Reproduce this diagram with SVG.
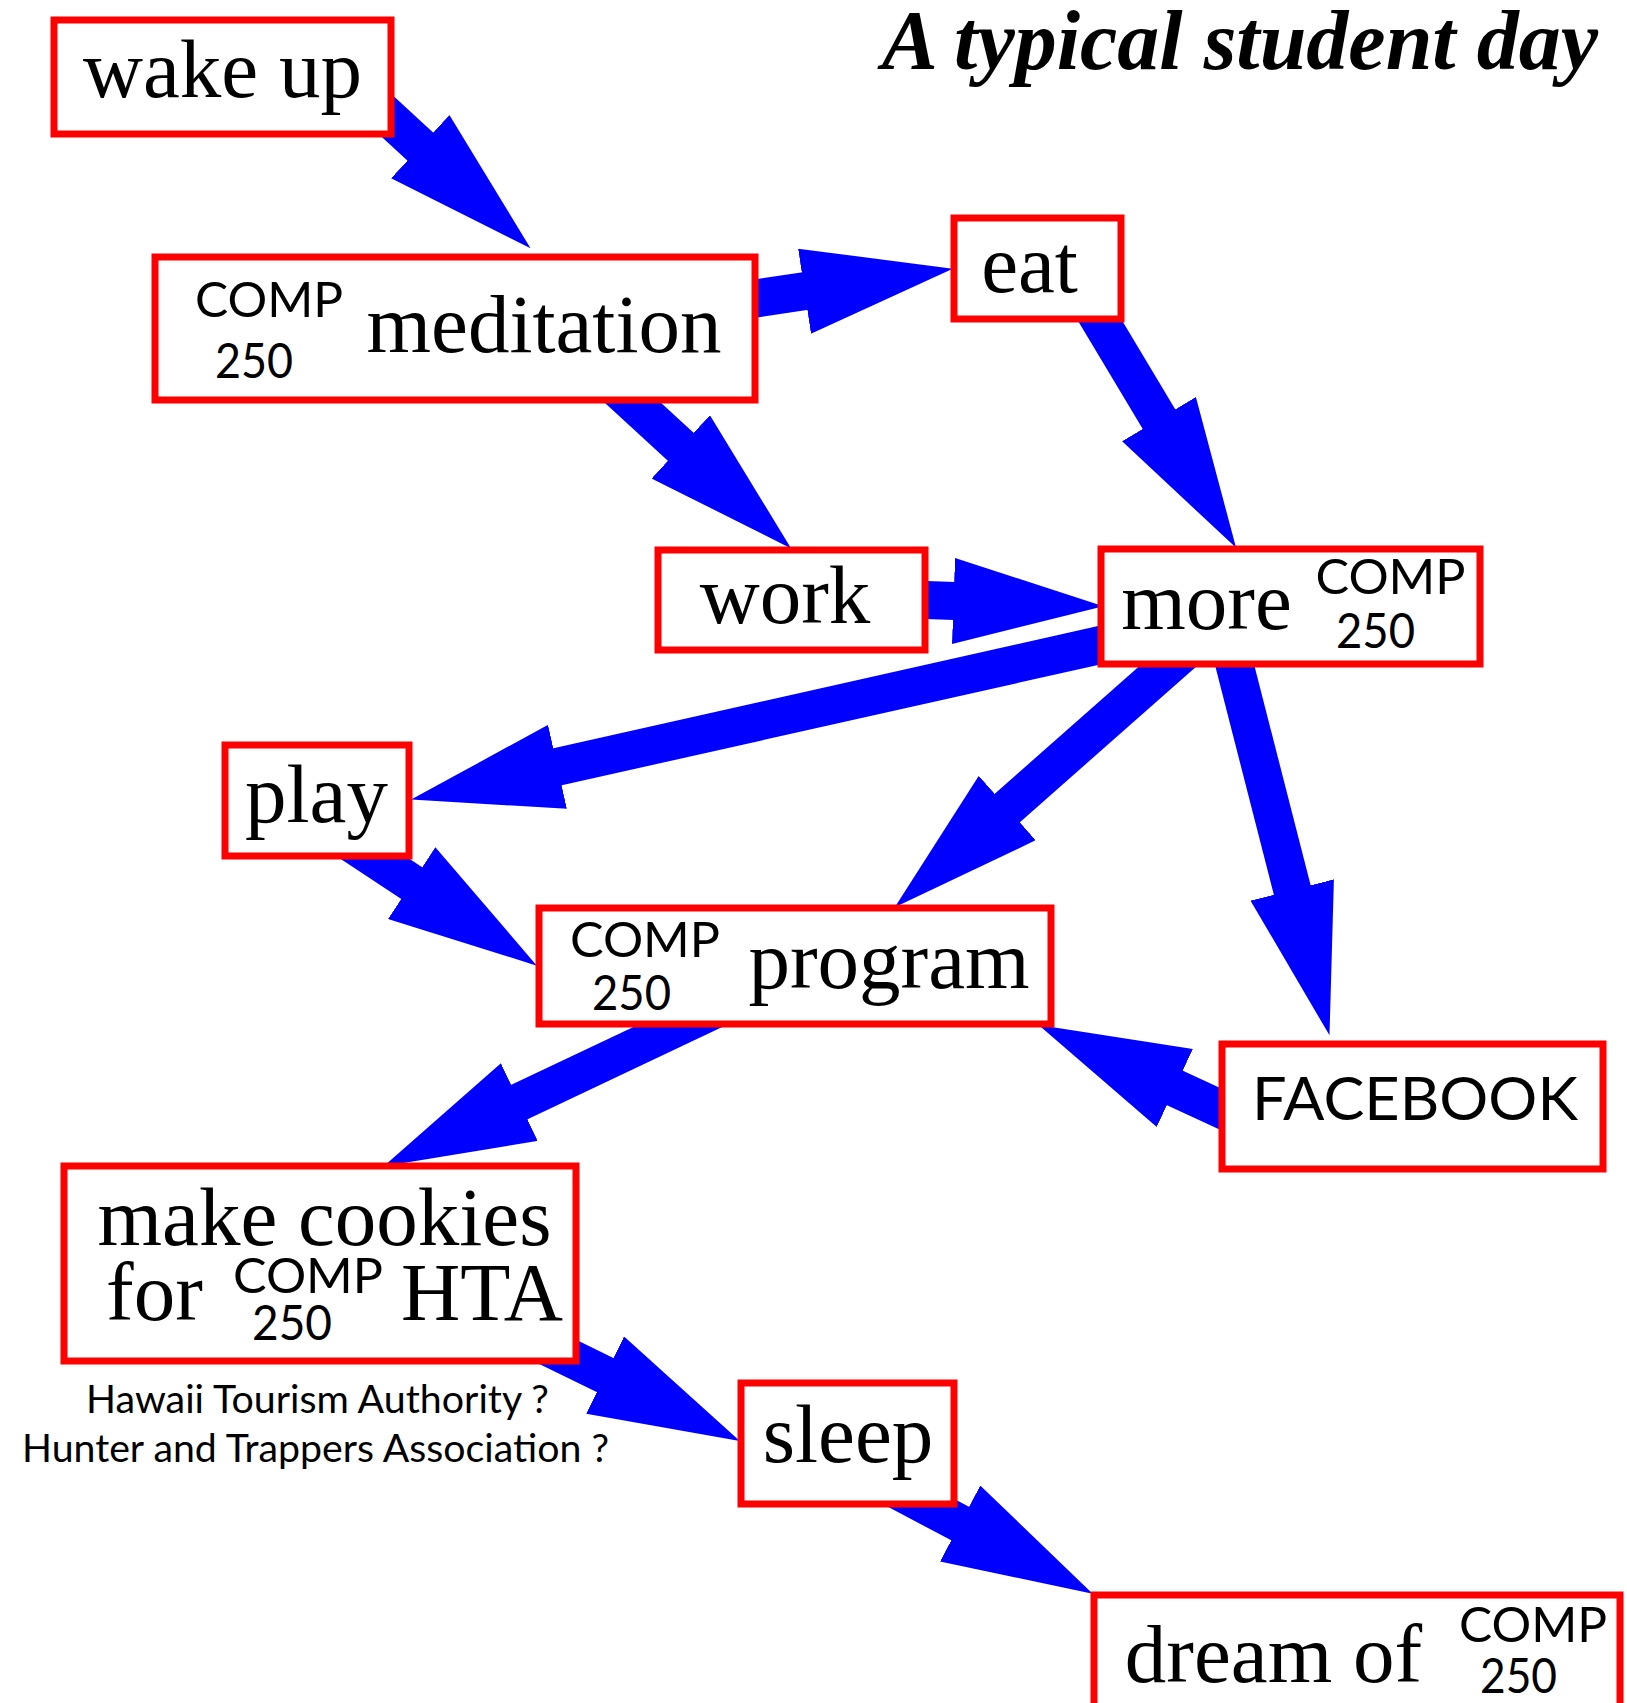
<svg xmlns="http://www.w3.org/2000/svg" width="1627" height="1703" viewBox="0 0 1627 1703">
<style>
.box{fill:#ffffff;stroke:#ff0000;stroke-width:7}
.lbl{font-family:"Liberation Serif","Times New Roman",serif;font-size:83px;fill:#000;text-anchor:middle}
.sub{font-family:Lato,"Liberation Sans",sans-serif;font-size:49px;fill:#000;text-anchor:middle}
.cap{font-family:Lato,"Liberation Sans",sans-serif;font-size:39px;fill:#000;text-anchor:middle}
.fb{font-family:Lato,"Liberation Sans",sans-serif;font-size:60px;fill:#000;text-anchor:middle}
.title{font-family:"Liberation Serif","Times New Roman",serif;font-size:84px;font-weight:bold;font-style:italic;fill:#000;text-anchor:end}
.edge{stroke:#0000ff;stroke-width:38;fill:none;stroke-linecap:butt;marker-end:url(#head)}
</style>
<defs>
<marker id="head" markerUnits="userSpaceOnUse" markerWidth="150" markerHeight="86" viewBox="0 0 150 86" refX="1" refY="43" orient="auto">
<path d="M0,0 L150,43 L0,86 Z" fill="#0000ff"/>
</marker>
</defs>
<rect width="1627" height="1703" fill="#ffffff"/>
<text class="title" x="1598" y="69">A typical student day</text>
<g id="connectors">
<line class="edge" x1="347.5" y1="79.5" x2="421" y2="147.3"/>
<line class="edge" x1="706.7" y1="305.9" x2="805.5" y2="291"/>
<line class="edge" x1="571.1" y1="345.9" x2="681.5" y2="447.5"/>
<line class="edge" x1="1082.4" y1="291.3" x2="1159.5" y2="420"/>
<line class="edge" x1="854.6" y1="597.5" x2="954.5" y2="601"/>
<line class="edge" x1="1142.1" y1="635.6" x2="556.5" y2="767"/>
<line class="edge" x1="1194" y1="643.2" x2="1006.5" y2="808.7"/>
<line class="edge" x1="1230.5" y1="649" x2="1292.5" y2="891"/>
<line class="edge" x1="1310.1" y1="1150.4" x2="1173.9" y2="1087.5"/>
<line class="edge" x1="287.3" y1="801" x2="412.5" y2="883.6"/>
<line class="edge" x1="762.5" y1="986.9" x2="518.4" y2="1102.5"/>
<line class="edge" x1="471.3" y1="1309.5" x2="606" y2="1375.5"/>
<line class="edge" x1="828.4" y1="1453.8" x2="961" y2="1524"/>
</g>
<g id="wake-up">
<rect class="box" x="54" y="20" width="337" height="114"/>
<text class="lbl" x="222.5" y="97">wake up</text>
</g>
<g id="meditation">
<rect class="box" x="155" y="257" width="600" height="143"/>
<text class="sub" x="269" y="317" textLength="148" lengthAdjust="spacingAndGlyphs">COMP</text>
<text class="sub" x="254" y="378" textLength="78" lengthAdjust="spacingAndGlyphs">250</text>
<text class="lbl" x="544" y="352">meditation</text>
</g>
<g id="eat">
<rect class="box" x="954" y="218" width="167" height="101"/>
<text class="lbl" x="1029.5" y="292">eat</text>
</g>
<g id="work">
<rect class="box" x="658" y="550" width="267" height="100"/>
<text class="lbl" x="785" y="623">work</text>
</g>
<g id="more">
<rect class="box" x="1101" y="549" width="379" height="115"/>
<text class="lbl" x="1206.5" y="629">more</text>
<text class="sub" x="1390.5" y="594" textLength="150" lengthAdjust="spacingAndGlyphs">COMP</text>
<text class="sub" x="1375.5" y="648" textLength="79" lengthAdjust="spacingAndGlyphs">250</text>
</g>
<g id="play">
<rect class="box" x="225" y="745" width="184" height="111"/>
<text class="lbl" x="316.5" y="822">play</text>
</g>
<g id="program">
<rect class="box" x="539" y="908" width="512" height="116"/>
<text class="sub" x="645" y="957" textLength="150" lengthAdjust="spacingAndGlyphs">COMP</text>
<text class="sub" x="631.5" y="1010" textLength="79" lengthAdjust="spacingAndGlyphs">250</text>
<text class="lbl" x="889" y="988">program</text>
</g>
<g id="facebook">
<rect class="box" x="1222" y="1044" width="381" height="125"/>
<text class="fb" x="1415" y="1120" textLength="326" lengthAdjust="spacingAndGlyphs">FACEBOOK</text>
</g>
<g id="make-cookies">
<rect class="box" x="64" y="1166" width="512" height="195"/>
<text class="lbl" x="324.5" y="1245">make cookies</text>
<text class="lbl" x="154.5" y="1320">for</text>
<text class="sub" x="308" y="1293" textLength="150" lengthAdjust="spacingAndGlyphs">COMP</text>
<text class="sub" x="292" y="1340" textLength="80" lengthAdjust="spacingAndGlyphs">250</text>
<text class="lbl" x="482" y="1320" textLength="162" lengthAdjust="spacingAndGlyphs">HTA</text>
</g>
<g id="hta-note">
<text class="cap" x="317.5" y="1413" textLength="463" lengthAdjust="spacingAndGlyphs">Hawaii Tourism Authority ?</text>
<text class="cap" x="315.5" y="1462" textLength="587" lengthAdjust="spacingAndGlyphs">Hunter and Trappers Association ?</text>
</g>
<g id="sleep">
<rect class="box" x="741" y="1383" width="213" height="121"/>
<text class="lbl" x="848" y="1462">sleep</text>
</g>
<g id="dream-of">
<rect class="box" x="1094" y="1595" width="526" height="140"/>
<text class="lbl" x="1273.5" y="1682">dream of</text>
<text class="sub" x="1533" y="1642" textLength="148" lengthAdjust="spacingAndGlyphs">COMP</text>
<text class="sub" x="1518.5" y="1693" textLength="77" lengthAdjust="spacingAndGlyphs">250</text>
</g>
</svg>
